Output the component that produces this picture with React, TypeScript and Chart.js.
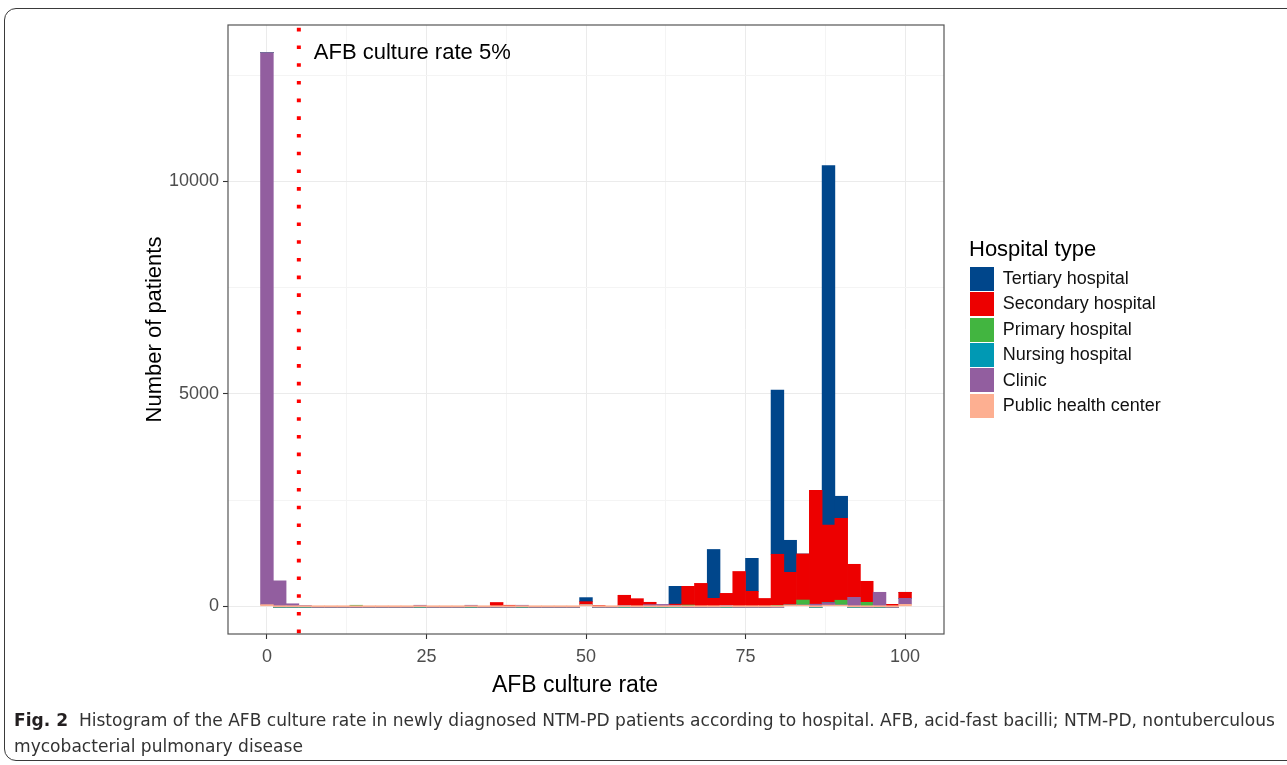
import React, { useEffect, useLayoutEffect, useRef } from "react";
import { Chart, registerables } from "chart.js";

Chart.register(...registerables);

// ---------- data ----------
const binCenters = [
  0, 2, 4, 6, 8, 10, 12, 14, 16, 18,
  20, 22, 24, 26, 28, 30, 32, 34, 36, 38,
  40, 42, 44, 46, 48, 50, 52, 54, 56, 58,
  60, 62, 64, 66, 68, 70, 72, 74, 76, 78,
  80, 82, 84, 86, 88, 90, 92, 94, 96, 98,
  100,
];

const tertiaryHospital = [
  0, 0, 0, 0, 0, 0, 0, 0, 0, 0,
  0, 0, 0, 0, 0, 0, 0, 0, 0, 0,
  0, 0, 0, 0, 0, 95, 0, 0, 0, 0,
  0, 0, 420, 0, 0, 1150, 0, 0, 777, 0,
  3862, 754, 0, 0, 8462, 518, 0, 0, 0, 0,
  0,
];

const secondaryHospital = [
  0, 0, 0, 0, 0, 0, 0, 0, 0, 0,
  0, 0, 0, 0, 0, 0, 0, 0, 90, 25,
  0, 0, 0, 0, 0, 70, 20, 0, 240, 180,
  55, 0, 25, 440, 540, 188, 285, 820, 353, 185,
  1205, 770, 1084, 2680, 1830, 1929, 777, 495, 0, 47,
  142,
];

const primaryHospital = [
  0, 0, 0, 0, 0, 0, 0, 25, 0, 0,
  0, 0, 0, 0, 0, 0, 0, 0, 0, 0,
  0, 0, 0, 0, 0, 0, 0, 0, 0, 0,
  0, 0, 0, 30, 0, 0, 0, 0, 0, 0,
  20, 0, 120, 0, 0, 115, 0, 94, 0, 0,
  0,
];

const nursingHospital = [
  0, 0, 0, 0, 0, 0, 0, 0, 0, 0,
  0, 0, 0, 0, 0, 0, 0, 0, 0, 0,
  0, 0, 0, 0, 0, 0, 0, 0, 0, 0,
  0, 0, 0, 0, 0, 0, 0, 0, 0, 0,
  0, 0, 0, 0, 0, 0, 0, 0, 0, 0,
  0,
];

const clinic = [
  12990, 600, 60, 20, 0, 0, 0, 0, 0, 0,
  0, 0, 25, 0, 0, 0, 25, 0, 0, 0,
  25, 0, 0, 0, 0, 0, 0, 0, 20, 0,
  40, 45, 25, 0, 0, 0, 20, 0, 0, 0,
  0, 0, 0, 50, 55, 0, 212, 0, 330, 0,
  141,
];

const publicHealthCenter = [
  40, 0, 0, 0, 0, 0, 0, 0, 0, 0,
  0, 0, 0, 0, 0, 0, 0, 0, 0, 0,
  0, 0, 0, 0, 0, 40, 0, 0, 0, 0,
  0, 0, 0, 0, 0, 0, 0, 0, 0, 0,
  0, 30, 20, 0, 20, 25, 0, 0, 0, 0,
  47,
];

const seriesNames = [
  "Tertiary hospital",
  "Secondary hospital",
  "Primary hospital",
  "Nursing hospital",
  "Clinic",
  "Public health center",
];
const seriesValues = [
  tertiaryHospital,
  secondaryHospital,
  primaryHospital,
  nursingHospital,
  clinic,
  publicHealthCenter,
];
const seriesColors = ["#00468B", "#ED0000", "#42B540", "#0099B4", "#925E9F", "#FDAF91"];

const xMajorTicks = [0, 25, 50, 75, 100];
const xMinorTicks = [12.5, 37.5, 62.5, 87.5];
const yMajorTicks = [0, 5000, 10000];
const yMinorTicks = [2500, 7500, 12500];

const cutoffRate = 5;
const cutoffLabel = "AFB culture rate 5%";

const xTitle = "AFB culture rate";
const yTitle = "Number of patients";
const legendTitle = "Hospital type";

const captionBold = "Fig. 2";
const captionLine1 =
  "Histogram of the AFB culture rate in newly diagnosed NTM-PD patients according to hospital. AFB, acid-fast bacilli; NTM-PD, nontuberculous";
const captionLine2 = "mycobacterial pulmonary disease";

// ---------- styling ----------
const FONT = '"Liberation Sans", Arial, Helvetica, sans-serif';

const overlayPlugin = {
  id: "overlay",
  afterDatasetsDraw(chart: any) {
    const { ctx, chartArea: a, scales } = chart;
    const x = scales.x;
    const y = scales.y;
    ctx.save();
    ctx.beginPath();
    ctx.rect(a.left, a.top, a.right - a.left, a.bottom - a.top);
    ctx.clip();
    const px = x.getPixelForValue(cutoffRate);
    ctx.beginPath();
    ctx.strokeStyle = "#FF0000";
    ctx.lineWidth = 4;
    ctx.lineCap = "butt";
    ctx.setLineDash([3.6, 14.1]);
    ctx.lineDashOffset = -2.8;
    ctx.moveTo(px, a.top);
    ctx.lineTo(px, a.bottom);
    ctx.stroke();
    ctx.setLineDash([]);
    ctx.fillStyle = "#000";
    ctx.font = "22px " + FONT;
    ctx.textBaseline = "alphabetic";
    ctx.textAlign = "left";
    ctx.fillText(cutoffLabel, x.getPixelForValue(7.35), y.getPixelForValue(12870));
    ctx.restore();
  },
  afterDraw(chart: any) {
    const { ctx, chartArea: a } = chart;
    ctx.save();
    ctx.strokeStyle = "#555";
    ctx.lineWidth = 1.2;
    ctx.strokeRect(a.left, a.top, a.right - a.left, a.bottom - a.top);
    // x axis title
    ctx.fillStyle = "#000";
    ctx.font = "23px " + FONT;
    ctx.textAlign = "center";
    ctx.textBaseline = "middle";
    ctx.fillText(xTitle, a.left + 347, a.bottom + 52);
    ctx.restore();
  },
};

function ChartCanvas() {
  const ref = useRef<HTMLCanvasElement | null>(null);
  useEffect(() => {
    if (!ref.current) return;
    // stacking order: bottom first
    const order = [5, 4, 3, 2, 1, 0];
    const datasets = order.map((i) => ({
      label: seriesNames[i],
      data: binCenters.map((c, k) => ({ x: c, y: seriesValues[i][k] })),
      backgroundColor: seriesColors[i],
      borderWidth: 0,
      barPercentage: 1,
      categoryPercentage: 1,
      minBarLength: i === 5 ? 1.2 : 0,
    }));
    const xMajor = new Set(xMajorTicks);
    const yMajor = new Set(yMajorTicks);
    const chart = new Chart(ref.current, {
      type: "bar",
      data: { datasets },
      plugins: [overlayPlugin],
      options: {
        animation: false,
        responsive: false,
        maintainAspectRatio: false,
        layout: { padding: { left: 0, top: 25, right: 343, bottom: 0 } },
        plugins: { legend: { display: false }, tooltip: { enabled: false } },
        scales: {
          x: {
            type: "linear",
            min: -6.1,
            max: 106.1,
            stacked: true,
            offset: false,
            afterBuildTicks: (scale: any) => {
              scale.ticks = [...xMajorTicks, ...xMinorTicks]
                .sort((p, q) => p - q)
                .map((v) => ({ value: v }));
            },
            afterFit: (scale: any) => {
              scale.height = 131;
            },
            ticks: {
              autoSkip: false,
              maxRotation: 0,
              padding: 7,
              color: "#4D4D4D",
              font: { family: FONT, size: 18 },
              callback: (v: any) => (xMajor.has(Number(v)) ? String(v) : ""),
            },
            grid: {
              offset: false,
              drawTicks: true,
              tickLength: 5,
              color: (c: any) => (c.tick && xMajor.has(c.tick.value) ? "#EBEBEB" : "#F4F4F4"),
              lineWidth: 1,
              tickColor: (c: any) => (c.tick && xMajor.has(c.tick.value) ? "#333333" : "rgba(0,0,0,0)"),
              tickWidth: 1.1,
            },
            border: { display: false },
            title: { display: false },
          },
          y: {
            type: "linear",
            min: -651.5,
            max: 13681.5,
            stacked: true,
            afterBuildTicks: (scale: any) => {
              scale.ticks = [...yMajorTicks, ...yMinorTicks]
                .sort((p, q) => p - q)
                .map((v) => ({ value: v }));
            },
            afterFit: (scale: any) => {
              scale.width = 228;
            },
            ticks: {
              autoSkip: false,
              padding: 4,
              color: "#4D4D4D",
              font: { family: FONT, size: 18 },
              callback: (v: any) => (yMajor.has(Number(v)) ? String(v) : ""),
            },
            grid: {
              drawTicks: true,
              tickLength: 5,
              color: (c: any) => (c.tick && yMajor.has(c.tick.value) ? "#EBEBEB" : "#F4F4F4"),
              lineWidth: 1,
              tickColor: (c: any) => (c.tick && yMajor.has(c.tick.value) ? "#333333" : "rgba(0,0,0,0)"),
              tickWidth: 1.1,
            },
            border: { display: false },
            title: {
              display: true,
              text: yTitle,
              color: "#000",
              font: { family: FONT, size: 22 },
              padding: { top: 141.8, bottom: 0 },
            },
          },
        },
      } as any,
    });
    return () => chart.destroy();
  }, []);
  return (
    <canvas
      ref={ref}
      width={1287}
      height={765}
      style={{ position: "absolute", left: 0, top: 0, width: 1287, height: 765 }}
    />
  );
}

function Legend() {
  return (
    <>
      <div
        style={{
          position: "absolute",
          left: 969,
          top: 236,
          font: "22px " + FONT,
          lineHeight: "26px",
          color: "#000",
          whiteSpace: "nowrap",
        }}
      >
        {legendTitle}
      </div>
      <div style={{ position: "absolute", left: 970, top: 266 }}>
        {seriesNames.map((name, i) => (
          <div key={name} style={{ display: "flex", alignItems: "center", height: 25.45 }}>
            <span
              style={{ display: "inline-block", width: 24, height: 24, background: seriesColors[i] }}
            />
            <span
              style={{
                marginLeft: 8.7,
                font: "18px " + FONT,
                lineHeight: "25.45px",
                color: "#111",
                whiteSpace: "nowrap",
              }}
            >
              {name}
            </span>
          </div>
        ))}
      </div>
    </>
  );
}

function Caption() {
  const boxRef = useRef<HTMLDivElement | null>(null);
  const lineRef = useRef<HTMLDivElement | null>(null);
  useLayoutEffect(() => {
    if (!boxRef.current || !lineRef.current) return;
    const w = lineRef.current.getBoundingClientRect().width;
    if (w > 0) boxRef.current.style.transform = `scaleX(${1261 / w})`;
  }, []);
  const font = '"Liberation Sans Narrow", "DejaVu Sans Condensed", "Roboto Condensed", "Open Sans", sans-serif';
  return (
    <div
      ref={boxRef}
      style={{
        position: "absolute",
        left: 14,
        top: 707,
        transformOrigin: "0 0",
        fontFamily: font,
        fontSize: 18,
        lineHeight: "26px",
        color: "#333",
        whiteSpace: "nowrap",
      }}
    >
      <div ref={lineRef} style={{ display: "inline-block" }}>
        <span style={{ fontWeight: "bold", color: "#231F20" }}>{captionBold}</span>
        {"\u00a0\u00a0"}
        {captionLine1}
      </div>
      <div>{captionLine2}</div>
    </div>
  );
}

export default function App() {
  return (
    <div
      style={{
        position: "fixed",
        left: 0,
        top: 0,
        width: 1287,
        height: 765,
        overflow: "hidden",
        background: "#fff",
      }}
    >
      <div
        style={{
          position: "absolute",
          left: 4,
          top: 8,
          width: 1330,
          height: 753,
          border: "1.6px solid #3a3a3a",
          borderRadius: 12,
          boxSizing: "border-box",
        }}
      />
      <ChartCanvas />
      <Legend />
      <Caption />
    </div>
  );
}
